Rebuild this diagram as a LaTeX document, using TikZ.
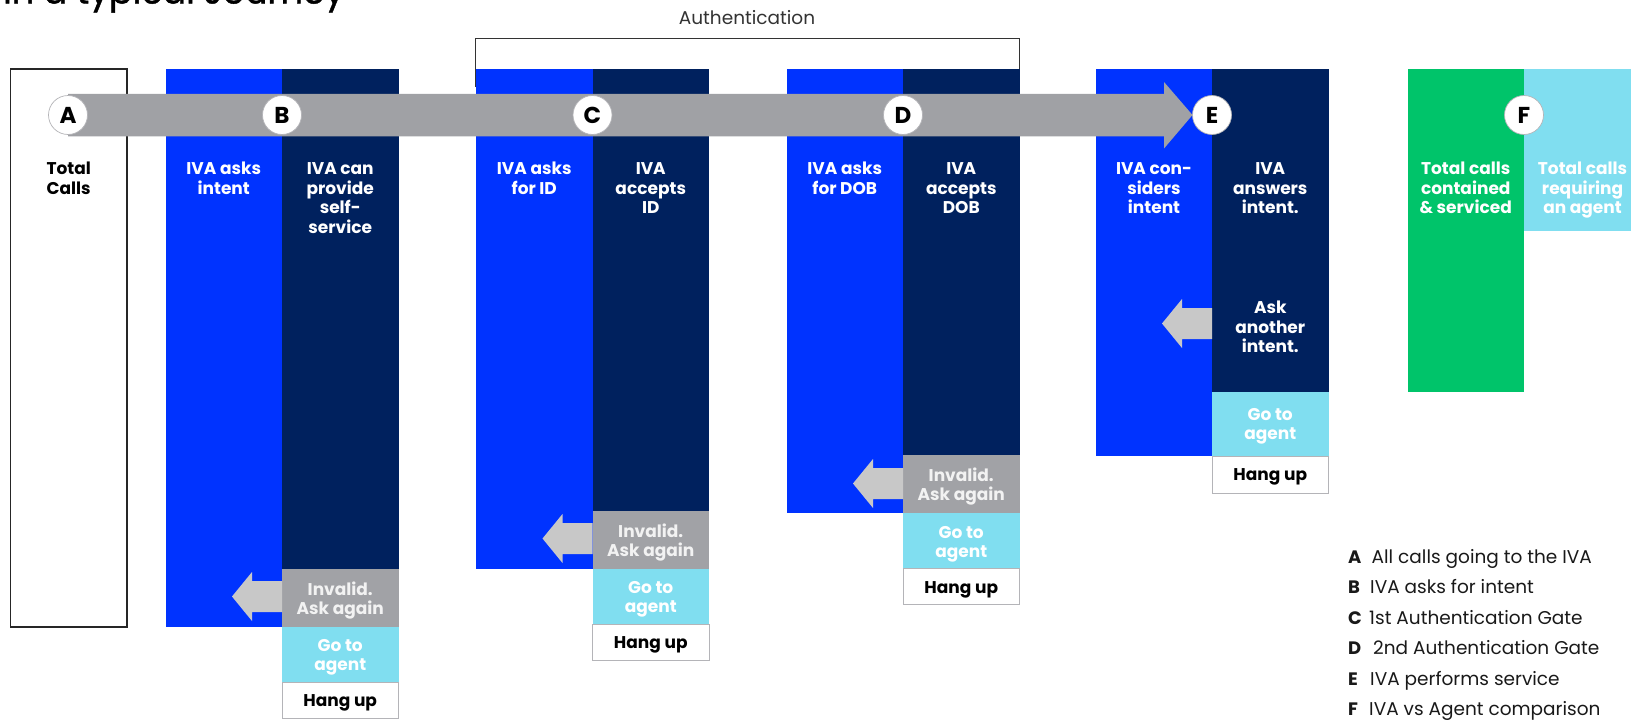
\documentclass[tikz,border=0pt]{standalone}
\usepackage{fontspec}
\setmainfont{Poppins}
\newfontfamily\titlefont{Poppins}[FakeBold=1.2]
\definecolor{cblue}{HTML}{0033FF}
\definecolor{cnavy}{HTML}{00215E}
\definecolor{cgray}{HTML}{A1A2A6}
\definecolor{clb}{HTML}{80DEF0}
\definecolor{cgreen}{HTML}{00C46A}
\definecolor{bargray}{HTML}{A0A1A5}
\definecolor{arrgray}{HTML}{C8C8C8}
\definecolor{hangborder}{HTML}{B4B4B8}
\definecolor{darktxt}{HTML}{333333}
\newcommand\mlines[1]{\vtop{\halign{\hfil##\hfil\cr#1\crcr}}}
\tikzset{
  blk/.style={rectangle, inner sep=0pt, outer sep=0pt, anchor=north west, draw=none, minimum width=116.5pt},
  hangbox/.style={blk, fill=white, draw=hangborder, line width=1pt},
  wtxt/.style={text=white, anchor=base, inner sep=0pt, font=\fontsize{17}{19.7}\selectfont\bfseries},
  stxt/.style={text=white, anchor=base, inner sep=0pt, font=\fontsize{17}{19}\selectfont\bfseries},
  ktxt/.style={text=black, anchor=base, inner sep=0pt, font=\fontsize{17}{19.7}\selectfont\bfseries},
  circ/.style={circle, fill=white, draw=hangborder, line width=0.7pt, minimum size=39pt, inner sep=0pt, font=\fontsize{23}{23}\selectfont\bfseries},
  legl/.style={anchor=base west, inner sep=0pt, text=black!90, font=\fontsize{18}{18}\selectfont\bfseries},
  legt/.style={anchor=base west, inner sep=0pt, text=black!90, font=\fontsize{18.5}{18.5}\selectfont},
  backarrow/.pic={\fill[arrgray] (0,-15.5) -- (-30,-15.5) -- (-30,-24.5) -- (-50,0) -- (-30,24.5) -- (-30,15.5) -- (0,15.5) -- cycle;}
}
\begin{document}
\begin{tikzpicture}[x=1pt,y=-1pt]
\useasboundingbox (0,0) rectangle (1631,720);
% title (cut off at top)
\node[anchor=base west, inner sep=0pt, font=\titlefont\fontsize{35}{35}\selectfont] (title) at (3,3.5) {in a typical Journey};
% authentication bracket
\node[anchor=base, inner sep=0pt, text=darktxt, font=\fontsize{18.5}{18.5}\selectfont] (auth) at (747,24) {Authentication};
\draw[darktxt, line width=1.2pt] (475.5,87) -- (475.5,38.5) -- (1019.5,38.5) -- (1019.5,69);
% total calls
\node[blk, fill=white, draw=black!85, line width=1.5pt, minimum height=558pt] (tot) at (10.5,69) {};
% column B
\node[blk, fill=cblue, minimum height=558pt] (bB) at (165.5,69) {};
\node[blk, fill=cnavy, minimum height=500pt] (bN) at (282,69) {};
\node[blk, fill=cgray, minimum height=58pt] (bG) at (282,569) {};
\node[blk, fill=clb, minimum height=55pt] (bL) at (282,627) {};
\node[hangbox, minimum height=36pt] (bH) at (282,682) {};
% column C
\node[blk, fill=cblue, minimum height=500pt] (cB) at (476,69) {};
\node[blk, fill=cnavy, minimum height=442pt] (cN) at (592.5,69) {};
\node[blk, fill=cgray, minimum height=58pt] (cG) at (592.5,511) {};
\node[blk, fill=clb, minimum height=55pt] (cL) at (592.5,569) {};
\node[hangbox, minimum height=36pt] (cH) at (592.5,624) {};
% column D
\node[blk, fill=cblue, minimum height=444pt] (dB) at (786.5,69) {};
\node[blk, fill=cnavy, minimum height=386pt] (dN) at (903,69) {};
\node[blk, fill=cgray, minimum height=58pt] (dG) at (903,455) {};
\node[blk, fill=clb, minimum height=55pt] (dL) at (903,513) {};
\node[hangbox, minimum height=36.5pt] (dH) at (903,568) {};
% column E
\node[blk, fill=cblue, minimum height=387pt] (eB) at (1096,69) {};
\node[blk, fill=cnavy, minimum height=323pt] (eN) at (1212,69) {};
\node[blk, fill=clb, minimum height=64pt] (eL) at (1212,392) {};
\node[hangbox, minimum height=37pt] (eH) at (1212,456) {};
% column F
\node[blk, fill=cgreen, minimum height=323pt] (fG) at (1407.5,69) {};
\node[blk, fill=clb, minimum width=117pt, minimum height=162pt] (fL) at (1524,69) {};
% back arrows
\pic at (282,596.5) {backarrow};
\pic at (592.5,538.5) {backarrow};
\pic at (903,483.5) {backarrow};
\pic at (1212,323.5) {backarrow};
% main grey arrow
\fill[bargray] (68,93.75) -- (1164,93.75) -- (1164,82) -- (1192.5,115) -- (1164,148.5) -- (1164,136.25) -- (68,136.25) -- cycle;
% circles
\node[circ] (cA) at (68,115) {A};
\node[circ] (cBc) at (282,115) {B};
\node[circ] (cC) at (592.5,115) {C};
\node[circ] (cD) at (903,115) {D};
\node[circ] (cE) at (1212,115) {E};
\node[circ] (cF) at (1524,115) {F};
% column texts
\node[ktxt] (tTot) at (68.7,174.3) {\mlines{Total\cr Calls}};
\node[wtxt] (tbB) at (223.75,174.3) {\mlines{IVA asks\cr intent}};
\node[wtxt] (tbN) at (340.25,174.3) {\mlines{IVA can\cr provide\cr self-\cr service}};
\node[wtxt] (tcB) at (534.25,174.3) {\mlines{IVA asks\cr for ID}};
\node[wtxt] (tcN) at (650.75,174.3) {\mlines{IVA\cr accepts\cr ID}};
\node[wtxt] (tdB) at (844.75,174.3) {\mlines{IVA asks\cr for DOB}};
\node[wtxt] (tdN) at (961.25,174.3) {\mlines{IVA\cr accepts\cr DOB}};
\node[wtxt] (teB) at (1154,174.3) {\mlines{IVA con-\cr siders\cr intent}};
\node[wtxt] (teN) at (1270.25,174.3) {\mlines{IVA\cr answers\cr intent.}};
\node[wtxt] (tfG) at (1465.75,174.3) {\mlines{Total calls\cr contained\cr \& serviced}};
\node[wtxt] (tfL) at (1582.5,174.3) {\mlines{Total calls\cr requiring\cr an agent}};
\node[wtxt] (teA) at (1270.25,313.3) {\mlines{Ask\cr another\cr intent.}};
% invalid blocks
\node[stxt, text=white!95!black] (tbG) at (340.25,595) {\mlines{Invalid.\cr Ask again}};
\node[stxt, text=white!95!black] (tcG) at (650.75,537) {\mlines{Invalid.\cr Ask again}};
\node[stxt, text=white!95!black] (tdG) at (961.25,481) {\mlines{Invalid.\cr Ask again}};
% go to agent
\node[stxt] (tbL) at (340.25,651.7) {\mlines{Go to\cr agent}};
\node[stxt] (tcL) at (650.75,593.5) {\mlines{Go to\cr agent}};
\node[stxt] (tdL) at (961.25,538) {\mlines{Go to\cr agent}};
\node[stxt] (teL) at (1270.25,420) {\mlines{Go to\cr agent}};
% hang up
\node[ktxt] (tbH) at (340.25,706.5) {Hang up};
\node[ktxt] (tcH) at (650.75,648.5) {Hang up};
\node[ktxt] (tdH) at (961.25,593) {Hang up};
\node[ktxt] (teH) at (1270.25,480.5) {Hang up};
% legend
\node[legl] (lA) at (1348,563.3) {A};
\node[legt] (lAt) at (1371.5,563.3) {All calls going to the IVA};
\node[legl] (lB) at (1348,593.8) {B};
\node[legt] (lBt) at (1370,593.8) {IVA asks for intent};
\node[legl] (lC) at (1348,624.3) {C};
\node[legt] (lCt) at (1369,624.3) {1st Authentication Gate};
\node[legl] (lD) at (1348,654.8) {D};
\node[legt] (lDt) at (1373,654.8) {2nd Authentication Gate};
\node[legl] (lE) at (1348,685.3) {E};
\node[legt] (lEt) at (1370,685.3) {IVA performs service};
\node[legl] (lF) at (1348,715.8) {F};
\node[legt] (lFt) at (1369,715.8) {IVA vs Agent comparison};
\end{tikzpicture}
\end{document}
